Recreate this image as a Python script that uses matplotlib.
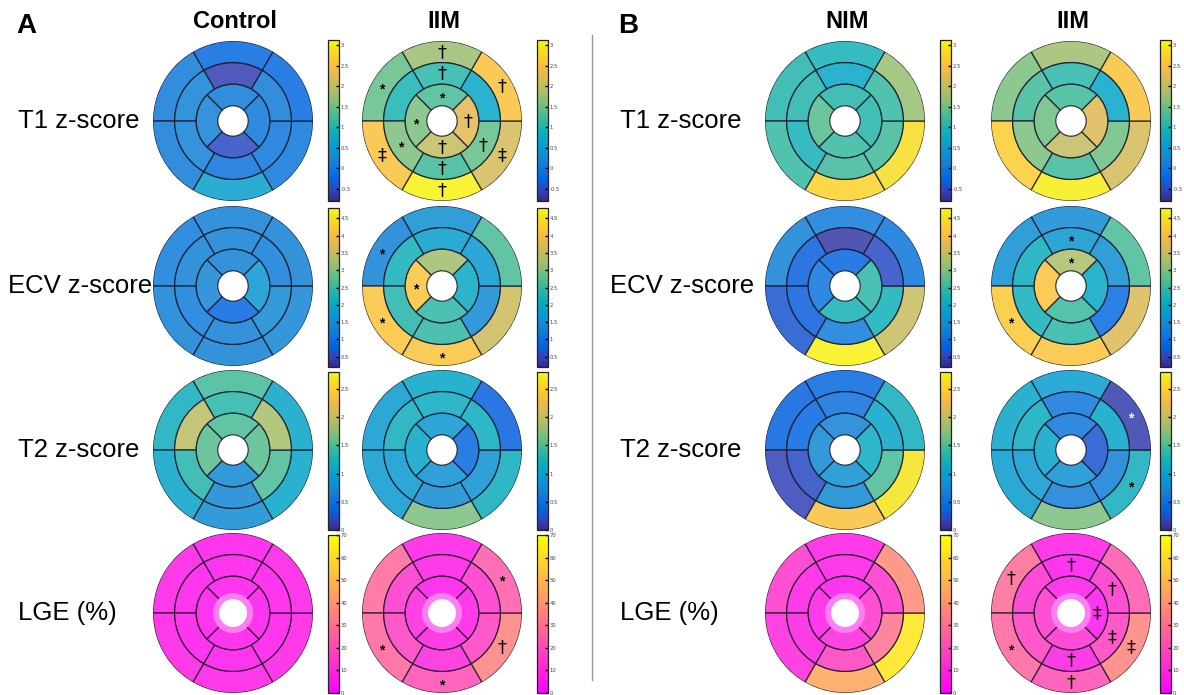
import numpy as np
import matplotlib.pyplot as plt
from matplotlib.colors import LinearSegmentedColormap, Normalize
from matplotlib.cm import ScalarMappable
from matplotlib.transforms import offset_copy

# segment order per plot:
#   basal / mid: anterior, anteroseptal, inferoseptal, inferior, inferolateral, anterolateral
#   apical:      anterior, septal, inferior, lateral
ctrl_t1 = [[-0.21, 0.06, 0.06, 0.58, -0.01, -0.21],
           [-0.60, 0.18, 0.14, -0.09, -0.01, 0.06],
           [0.06, 0.14, -0.49, -0.01]]
iima_t1 = [[1.75, 1.44, 2.54, 3.05, 2.15, 2.54],
           [1.09, 0.97, 1.56, 1.24, 1.44, 0.69],
           [1.28, 1.56, 2.03, 2.27]]
nim_t1 = [[0.93, 1.05, 1.17, 2.74, 2.85, 1.72],
          [0.69, 1.05, 0.93, 1.24, 1.24, 1.17],
          [1.05, 1.36, 1.17, 1.05]]
iimb_t1 = [[1.79, 1.56, 2.66, 3.01, 2.15, 2.54],
           [1.09, 1.24, 1.56, 1.24, 1.48, 0.69],
           [1.24, 1.48, 2.03, 2.23]]

ctrl_ecv = [[1.29, 1.20, 1.29, 1.29, 1.38, 1.29],
            [1.29, 1.29, 1.20, 1.29, 1.43, 1.20],
            [1.29, 1.38, 0.84, 1.65]]
iima_ecv = [[1.52, 1.29, 4.13, 4.13, 3.59, 2.64],
            [1.79, 2.19, 2.37, 2.46, 1.43, 1.65],
            [3.23, 4.13, 2.46, 2.01]]
nim_ecv = [[1.20, 1.29, 0.66, 4.71, 3.54, 1.11],
           [0.39, 0.75, 0.75, 1.20, 2.19, 0.57],
           [0.84, 1.07, 2.24, 2.42]]
iimb_ecv = [[1.47, 1.52, 4.22, 4.13, 3.72, 2.64],
            [1.65, 2.10, 2.19, 2.42, 0.93, 1.52],
            [3.32, 4.13, 2.55, 1.97]]

ctrl_t2 = [[1.46, 1.18, 1.01, 0.78, 1.06, 1.04],
           [1.34, 1.96, 1.32, 0.73, 1.48, 1.88],
           [1.48, 1.54, 0.76, 1.54]]
iima_t2 = [[1.06, 0.90, 0.90, 1.68, 1.15, 0.34],
           [1.12, 1.18, 0.90, 0.78, 0.84, 1.12],
           [0.87, 1.06, 0.84, 0.42]]
nim_t2 = [[0.42, 0.36, 0.17, 2.38, 2.66, 1.18],
          [0.50, 0.39, 0.22, 0.76, 1.48, 1.04],
          [0.67, 0.76, 0.84, 1.12]]
iimb_t2 = [[0.95, 1.04, 0.92, 1.68, 1.18, 0.14],
           [0.56, 1.12, 0.90, 0.64, 0.64, 1.06],
           [0.56, 1.06, 0.84, 0.28]]

ctrl_lge = [[6, 7, 7, 7, 7, 7], [6, 6, 6, 6, 6, 6], [6, 6, 6, 6]]
iima_lge = [[7, 28, 27, 21, 35, 24], [7, 14, 17, 10, 17, 14], [6, 10, 8, 7]]
nim_lge = [[7, 14, 10, 45, 63, 38], [7, 7, 8, 17, 31, 14], [6, 7, 10, 14]]
iimb_lge = [[7, 29, 27, 21, 36, 23], [6, 13, 17, 8, 17, 14], [7, 14, 13, 6]]
apex_lge = 6

# significance marks: (ring, segment, symbol)  ring 0=basal 1=mid 2=apical
iima_t1_marks = [(0, 0, '†'), (1, 0, '†'), (0, 5, '†'), (2, 3, '†'), (1, 4, '†'),
                 (2, 2, '†'), (1, 3, '†'), (0, 3, '†'), (0, 1, '*'), (2, 0, '*'),
                 (2, 1, '*'), (1, 2, '*'), (0, 2, '‡'), (0, 4, '‡')]
iima_ecv_marks = [(0, 1, '*'), (2, 1, '*'), (0, 2, '*'), (0, 3, '*')]
iima_lge_marks = [(0, 5, '*'), (0, 4, '†'), (0, 2, '*'), (0, 3, '*')]
iimb_ecv_marks = [(1, 0, '*'), (2, 0, '*'), (0, 2, '*')]
iimb_t2_marks = [(0, 5, '*w'), (0, 4, '*')]
iimb_lge_marks = [(0, 1, '†'), (0, 2, '*'), (1, 0, '†'), (1, 5, '†'), (2, 3, '‡'),
                  (1, 4, '‡'), (0, 4, '‡'), (1, 3, '†'), (0, 3, '†')]

row_labels = ['T1 z-score', 'ECV z-score', 'T2 z-score', 'LGE (%)']
col_titles = ['Control', 'IIM', 'NIM', 'IIM']
cbar_ticks = [[-0.5, 0, 0.5, 1, 1.5, 2, 2.5, 3],
              [0.5, 1, 1.5, 2, 2.5, 3, 3.5, 4, 4.5],
              [0, 0.5, 1, 1.5, 2, 2.5],
              [0, 10, 20, 30, 40, 50, 60, 70]]
cbar_limits = [(-0.8, 3.13), (0.2, 4.8), (0.0, 2.8), (0, 70)]

# MATLAB parula, sampled
parula_rgb = [[0.2081, 0.1663, 0.5292], [0.1959, 0.2645, 0.7279], [0.0117, 0.3875, 0.8820],
              [0.0498, 0.4586, 0.8641], [0.0793, 0.5200, 0.8312], [0.0343, 0.5966, 0.8199],
              [0.0228, 0.6535, 0.7768], [0.0843, 0.6928, 0.7062], [0.2178, 0.7250, 0.6193],
              [0.3953, 0.7459, 0.5244], [0.5709, 0.7485, 0.4494], [0.7184, 0.7411, 0.3905],
              [0.8507, 0.7299, 0.3360], [0.9739, 0.7314, 0.2666], [0.9880, 0.8066, 0.1794],
              [0.9589, 0.8949, 0.1132], [0.9763, 0.9831, 0.0538]]
parula_pos = [0, 4, 8, 12, 16, 20, 24, 28, 32, 36, 40, 44, 48, 52, 56, 60, 63]
parula = LinearSegmentedColormap.from_list(
    'parula', [(p / 63, c) for p, c in zip(parula_pos, parula_rgb)])
spring = plt.get_cmap('spring')

W, H = 1184, 695
R = 80
EDGE = '#1c1c2c'
fig = plt.figure(figsize=(W / 100, H / 100), dpi=100)


def px(x, y):
    return x / W, 1 - y / H


def bullseye(cx, cy, data, cmap, norm, marks=(), lge=False):
    ax = fig.add_axes([(cx - R) / W, 1 - (cy + R) / H, 2 * R / W, 2 * R / H], projection='polar')
    ring_r = [(0.73, 1.0), (0.46, 0.73), (0.19, 0.46)]
    centers = [[90, 150, 210, 270, 330, 30], [90, 150, 210, 270, 330, 30], [90, 180, 270, 0]]
    widths = [60, 60, 90]
    for k in range(3):
        th = np.deg2rad(centers[k])
        ax.bar(th, ring_r[k][1] - ring_r[k][0], width=np.deg2rad(widths[k]), bottom=ring_r[k][0],
               color=cmap(norm(np.array(data[k]))), edgecolor=EDGE, linewidth=0.9, alpha=0.86)
    if lge:
        c = np.array(cmap(norm(apex_lge)))
        c[:3] = c[:3] * 0.55 + 0.45
        ax.bar(0, 0.075, width=2 * np.pi, bottom=0.175, color=c, edgecolor='none')
    for ring, seg, sym in marks:
        th = np.deg2rad(centers[ring][seg])
        r = (ring_r[ring][0] + ring_r[ring][1]) / 2
        col = 'black'
        if sym == '*w':
            sym, col = '*', 'white'
        if sym == '*':
            tr = offset_copy(ax.transData, fig=fig, x=0, y=-3, units='dots')
            ax.text(th, r, sym, ha='center', va='center', fontsize=10, fontweight='bold',
                    family='Liberation Sans', color=col, transform=tr)
        else:
            ax.text(th, r, sym, ha='center', va='center', fontsize=13, color=col)
    ax.set_ylim(0, 1)
    ax.axis('off')


def colorbar(x, y0, y1, cmap, norm, ticks):
    cax = fig.add_axes([x / W, 1 - y1 / H, 11 / W, (y1 - y0) / H])
    cb = fig.colorbar(ScalarMappable(norm=norm, cmap=cmap), cax=cax)
    cb.set_ticks(ticks)
    cb.set_ticklabels([('%g' % t) for t in ticks])
    cb.ax.tick_params(labelsize=3.8, length=2.5, width=1, direction='in', pad=1.2,
                      color='black', labelcolor='#444444')
    cb.outline.set_linewidth(0.9)
    cb.outline.set_edgecolor('#222222')


col_x = [233, 442, 845, 1071]
cbar_x = [328, 537, 940, 1160]
row_y = [121, 286, 450, 613]
cbar_y = [(40, 201), (208, 367), (372, 530), (535, 693)]
label_x = [[18, 620], [8, 610], [18, 620], [18, 620]]

panels = [[ctrl_t1, iima_t1, nim_t1, iimb_t1],
          [ctrl_ecv, iima_ecv, nim_ecv, iimb_ecv],
          [ctrl_t2, iima_t2, nim_t2, iimb_t2],
          [ctrl_lge, iima_lge, nim_lge, iimb_lge]]
marks = {(0, 1): iima_t1_marks, (1, 1): iima_ecv_marks, (3, 1): iima_lge_marks,
         (1, 3): iimb_ecv_marks, (2, 3): iimb_t2_marks, (3, 3): iimb_lge_marks}

for i in range(4):
    cmap = spring if i == 3 else parula
    norm = Normalize(*cbar_limits[i])
    for j in range(4):
        bullseye(col_x[j], row_y[i], panels[i][j], cmap, norm, marks.get((i, j), ()), lge=(i == 3))
        colorbar(cbar_x[j], cbar_y[i][0], cbar_y[i][1], cmap, norm, cbar_ticks[i])
    for lx in label_x[i]:
        fig.text(*px(lx, row_y[i]), row_labels[i], fontsize=18.5, family='Liberation Sans',
                 ha='left', va='center')

for j in range(4):
    fig.text(*px(col_x[j] + 2, 22), col_titles[j], fontsize=17, fontweight='bold',
             family='Liberation Sans', ha='center', va='center')

fig.text(*px(26, 26), 'A', fontsize=20, fontweight='bold', family='Liberation Sans',
         ha='center', va='center')
fig.text(*px(628, 26), 'B', fontsize=20, fontweight='bold', family='Liberation Sans',
         ha='center', va='center')
fig.add_artist(plt.Line2D([592 / W, 592 / W], [1 - 35 / H, 1 - 680 / H], color='#999999', lw=1))

fig.savefig('out.png', dpi=100)
